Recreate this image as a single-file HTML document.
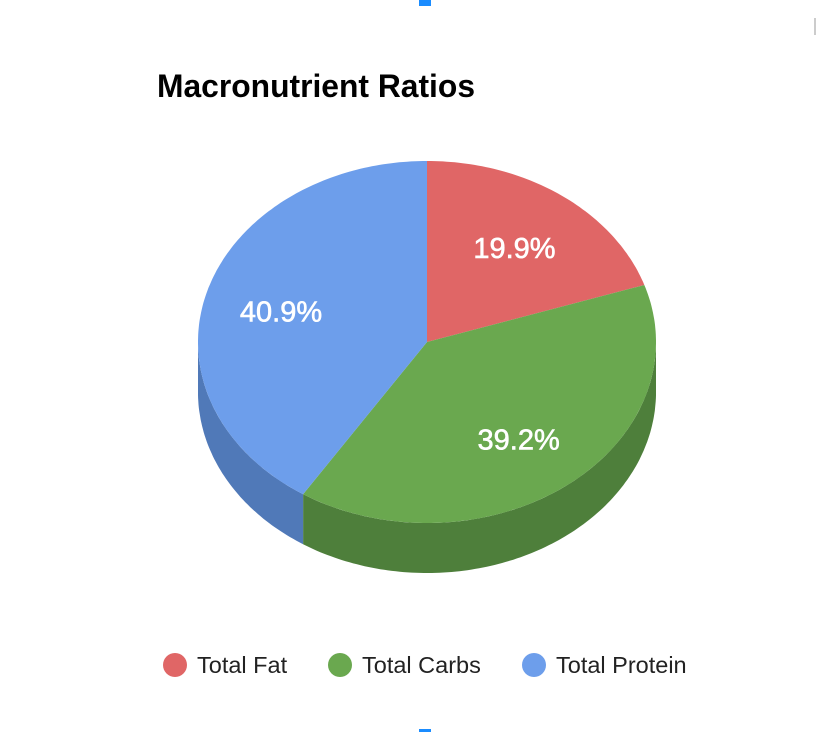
<!DOCTYPE html>
<html><head><meta charset="utf-8"><style>
body{margin:0;background:#fff;width:826px;height:732px;overflow:hidden;font-family:"Liberation Sans",sans-serif}
</style></head><body>
<svg width="826" height="732" id="c">
<rect x="419" y="0" width="12" height="6" fill="#1a8cff"/>
<rect x="419" y="729" width="12" height="3" fill="#1a8cff"/>
<rect x="814" y="18" width="2" height="17" fill="#ccc"/>
<text x="157" y="97" font-size="32" font-weight="bold" fill="#000" textLength="318" lengthAdjust="spacingAndGlyphs">Macronutrient Ratios</text>
<g id="pie"></g>
<g id="legend"></g>
</svg>
<script>
const categories=["Total Fat","Total Carbs","Total Protein"];
const values=[19.9,39.2,40.9];
const colors=["#e06666","#6aa84f","#6d9eeb"];
const sideColors=["#a84d4d","#4e7f3b","#5079b8"];
const cx=427,cy=342,rx=229,ry=181,depth=50;
const NS="http://www.w3.org/2000/svg";
const pie=document.getElementById('pie');
const total=values.reduce((a,b)=>a+b,0);
function pt(deg,dy){const r=deg*Math.PI/180;return [cx+rx*Math.sin(r),cy-ry*Math.cos(r)+(dy||0)];}
function arcPts(a1,a2,dy){const p=[];const n=Math.max(2,Math.ceil(Math.abs(a2-a1)));for(let i=0;i<=n;i++)p.push(pt(a1+(a2-a1)*i/n,dy));return p;}
let start=0;const slices=[];
values.forEach((v,i)=>{const a=v/total*360;slices.push([start,start+a]);start+=a;});
slices.forEach(([a1,a2],i)=>{
  const s=Math.max(a1,90),e=Math.min(a2,270);
  if(e>s){
    const top=arcPts(s,e,0),bot=arcPts(e,s,depth);
    const p=document.createElementNS(NS,'path');
    p.setAttribute('d','M'+top.concat(bot).map(q=>q[0].toFixed(1)+','+q[1].toFixed(1)).join('L')+'Z');
    p.setAttribute('fill',sideColors[i]);
    
    
    pie.appendChild(p);
  }
});
slices.forEach(([a1,a2],i)=>{
  const pts=[[cx,cy]].concat(arcPts(a1,a2,0));
  const p=document.createElementNS(NS,'path');
  p.setAttribute('d','M'+pts.map(q=>q[0].toFixed(1)+','+q[1].toFixed(1)).join('L')+'Z');
  p.setAttribute('fill',colors[i]);
  
  
  pie.appendChild(p);
  const m=(a1+a2)/2,r=m*Math.PI/180;
  const lx=cx+rx*0.66*Math.sin(r),ly=cy-ry*0.66*Math.cos(r)+13;
  const t=document.createElementNS(NS,'text');
  t.setAttribute('x',lx-1);t.setAttribute('y',ly);t.setAttribute('text-anchor','middle');
  t.setAttribute('font-size','29');t.setAttribute('fill','#fff');
  t.setAttribute('stroke','#fff');t.setAttribute('stroke-width','0.6');
  t.textContent=values[i].toFixed(1)+'%';
  
  
  pie.appendChild(t);
});
const lg=document.getElementById('legend');
const lx=[175,340,534];
categories.forEach((c,i)=>{
  const g=document.createElementNS(NS,'g');
  
  
  const ci=document.createElementNS(NS,'circle');
  ci.setAttribute('cx',lx[i]);ci.setAttribute('cy',665);ci.setAttribute('r',12);ci.setAttribute('fill',colors[i]);
  const t=document.createElementNS(NS,'text');
  t.setAttribute('x',lx[i]+22);t.setAttribute('y',673);t.setAttribute('font-size','23.5');t.setAttribute('fill','#222');
  t.textContent=c;
  g.appendChild(ci);g.appendChild(t);lg.appendChild(g);
});
</script>
</body></html>
